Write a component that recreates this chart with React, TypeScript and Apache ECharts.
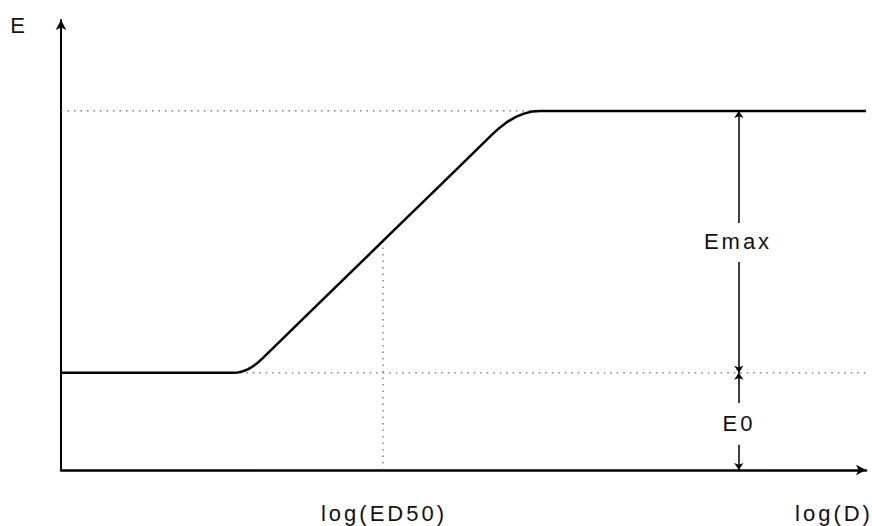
import React, { useEffect, useRef } from "react";
import * as echarts from "echarts";

// log(D) on x (0..100), effect E on y (0..100)
const curveX = [0, 21.4, 22.0, 22.6, 23.2, 23.8, 24.4, 25.0, 32.0, 40.0, 47.0, 53.64, 54.5, 55.5, 56.5, 57.5, 58.5, 59.5, 100];
const curveY = [21.6, 21.6, 21.69, 21.95, 22.38, 22.99, 23.78, 24.74, 36.95, 50.9, 63.1, 74.69, 76.08, 77.42, 78.46, 79.2, 79.65, 79.8, 79.8];

const E0 = 21.6;
const ETOP = 79.8; // E0 + Emax
const ED50_X = 40.0;
const ED50_Y = 50.9;
const CURVE_START_X = 21.4;
const ARROW_X = 84.2;

// arrow segments: [fromY, toY] (arrow head at toY)
const arrowSegments: [number, number][] = [
  [54.9, ETOP],
  [46.2, E0],
  [14.9, E0],
  [5.6, 0],
];

const labels = {
  yName: "E",
  xName: "log(D)",
  ed50: "log(ED50)",
  emax: "Emax",
  e0: "E0",
};

const FONT = "'Liberation Sans', Arial, sans-serif";

export default function App() {
  const ref = useRef<HTMLDivElement>(null);
  useEffect(() => {
    if (!ref.current) return;
    const chart = echarts.init(ref.current, undefined, { renderer: "svg" });
    const dotted = { color: "#666", width: 1.2, type: [1.5, 5] as any };
    const textStyle = (t: string, x: number, y: number, align = "center") => ({
      type: "text",
      x,
      y,
      style: {
        text: t,
        font: `22px ${FONT}`,
        fill: "#111",
        align,
        verticalAlign: "middle",
      },
    });
    chart.setOption({
      animation: false,
      backgroundColor: "#fff",
      grid: { left: 61, right: 6, top: 20, bottom: 56, containLabel: false },
      xAxis: {
        type: "value",
        min: 0,
        max: 100,
        axisLine: {
          show: true,
          onZero: false,
          symbol: ["none", "arrow"],
          symbolSize: [8, 10],
          lineStyle: { color: "#000", width: 2.5 },
        },
        axisTick: { show: false },
        axisLabel: { show: false },
        splitLine: { show: false },
      },
      yAxis: {
        type: "value",
        min: 0,
        max: 100,
        axisLine: {
          show: true,
          onZero: false,
          symbol: ["none", "arrow"],
          symbolSize: [8, 10],
          lineStyle: { color: "#000", width: 2 },
        },
        axisTick: { show: false },
        axisLabel: { show: false },
        splitLine: { show: false },
      },
      series: [
        {
          type: "line",
          data: [[0, ETOP], [100, ETOP]],
          symbol: "none",
          lineStyle: dotted,
          z: 1,
        },
        {
          type: "line",
          data: [[CURVE_START_X, E0], [100, E0]],
          symbol: "none",
          lineStyle: dotted,
          z: 1,
        },
        {
          type: "line",
          data: [[ED50_X, 0], [ED50_X, ED50_Y]],
          symbol: "none",
          lineStyle: dotted,
          z: 1,
        },
        {
          type: "line",
          data: curveX.map((x, i) => [x, curveY[i]]),
          symbol: "none",
          lineStyle: { color: "#000", width: 2.5, join: "round" },
          z: 3,
        },
        {
          type: "lines",
          coordinateSystem: "cartesian2d",
          symbol: ["none", "arrow"],
          symbolSize: 7,
          lineStyle: { color: "#000", width: 1.5, curveness: 0, opacity: 1 },
          data: arrowSegments.map(([a, b]) => ({ coords: [[ARROW_X, a], [ARROW_X, b]] })),
          z: 4,
        },
      ],
      graphic: [
        textStyle(labels.yName, 19, 25),
        textStyle(labels.emax, 738, 241),
        textStyle(labels.e0, 739, 423),
        textStyle(labels.ed50, 384, 513),
        textStyle(labels.xName, 834, 513),
      ],
    });
    return () => chart.dispose();
  }, []);
  return (
    <>
      <style>{`.chartbox svg text { letter-spacing: 3px; }`}</style>
      <div
        ref={ref}
        className="chartbox"
        style={{ position: "fixed", left: 0, top: 0, width: 872, height: 526, background: "#fff" }}
      />
    </>
  );
}
